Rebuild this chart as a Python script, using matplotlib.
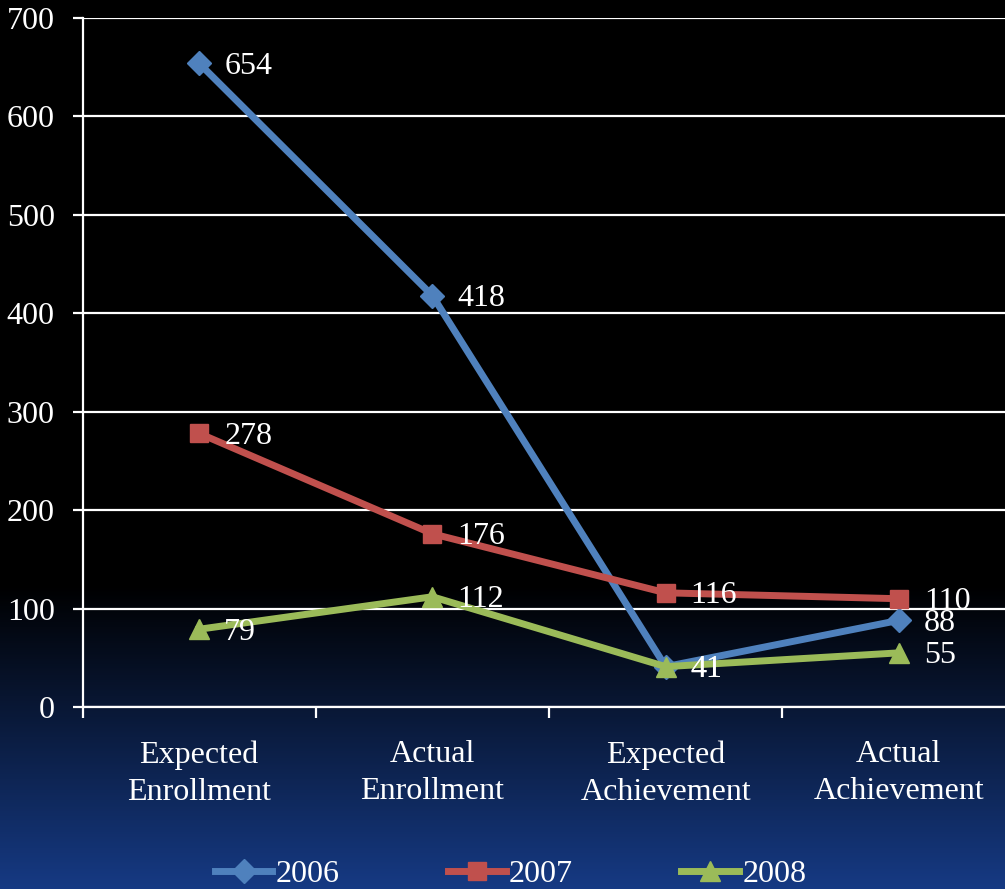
import numpy as np
import matplotlib
matplotlib.use("Agg")
import matplotlib.pyplot as plt

categories = ["Expected\nEnrollment", "Actual\nEnrollment", "Expected\nAchievement", "Actual\nAchievement"]
series_names = ["2006", "2007", "2008"]
v2006 = [654, 418, 41, 88]
v2007 = [278, 176, 116, 110]
v2008 = [79, 112, 41, 55]
yticks = [0, 100, 200, 300, 400, 500, 600, 700]

colors = ["#4f81bd", "#c0504d", "#9bbb59"]
markers = ["D", "s", "^"]
msizes = [12, 13, 15]

plt.rcParams["font.family"] = ["Liberation Serif", "DejaVu Serif"]
FS = 23

W, H = 1005, 889
fig = plt.figure(figsize=(W / 100, H / 100), dpi=100)

# background gradient
bg = fig.add_axes([0, 0, 1, 1], zorder=-10)
rows = np.arange(H)
start = 585
frac = np.clip((rows - start) / (H - start), 0, 1)
top = np.array([0, 0, 0])
bot = np.array([22, 58, 132]) / 255
img = (top[None, :] * (1 - frac[:, None]) + bot[None, :] * frac[:, None])
img = np.repeat(img[:, None, :], 10, axis=1)
bg.imshow(img, aspect="auto", extent=[0, 1, 0, 1], origin="upper")
bg.axis("off")

left = 82.5 / W
right = 1015.5 / W
bottom = 1 - 707 / H
top_ = 1 - 18 / H
ax = fig.add_axes([left, bottom, right - left, top_ - bottom])
ax.set_facecolor("none")

x = np.arange(len(categories))
all_series = [v2006, v2007, v2008]
for vals, name, c, m, ms in zip(all_series, series_names, colors, markers, msizes):
    ax.plot(x, vals, color=c, lw=5, marker=m, markersize=ms, label=name,
            markeredgecolor=c, clip_on=False, zorder=3)
    for xi, v in zip(x, vals):
        ax.annotate(str(v), (xi, v), xytext=(18, -2), textcoords="offset points",
                    ha="left", va="center", color="white", fontsize=FS, zorder=4)

ax.set_xlim(-0.5, 3.5)
ax.set_ylim(0, 700)
ax.set_yticks(yticks)
ax.set_yticklabels([str(t) for t in yticks])
ax.grid(axis="y", color="white", lw=1.6)
ax.set_axisbelow(True)

ax.set_xticks(x)
ax.set_xticklabels(categories, linespacing=1.35)
ax.set_xticks([-0.5, 0.5, 1.5, 2.5], minor=True)
ax.tick_params(axis="x", which="major", length=0, pad=24, labelsize=FS, colors="white")
ax.tick_params(axis="x", which="minor", length=8, width=1.6, direction="out", color="white")
ax.tick_params(axis="y", length=7, width=1.6, direction="out", color="white",
               labelcolor="white", labelsize=FS, pad=13)

for s in ["top", "right"]:
    ax.spines[s].set_visible(False)
for s in ["left", "bottom"]:
    ax.spines[s].set_color("white")
    ax.spines[s].set_linewidth(1.6)

leg = fig.legend(loc="center", bbox_to_anchor=(0.508, 1 - 874 / H), ncol=3, frameon=False,
                 fontsize=FS, handlelength=1.8, handletextpad=0.1, columnspacing=3.4,
                 labelcolor="white")

fig.savefig("out.png", dpi=100, facecolor="black")
